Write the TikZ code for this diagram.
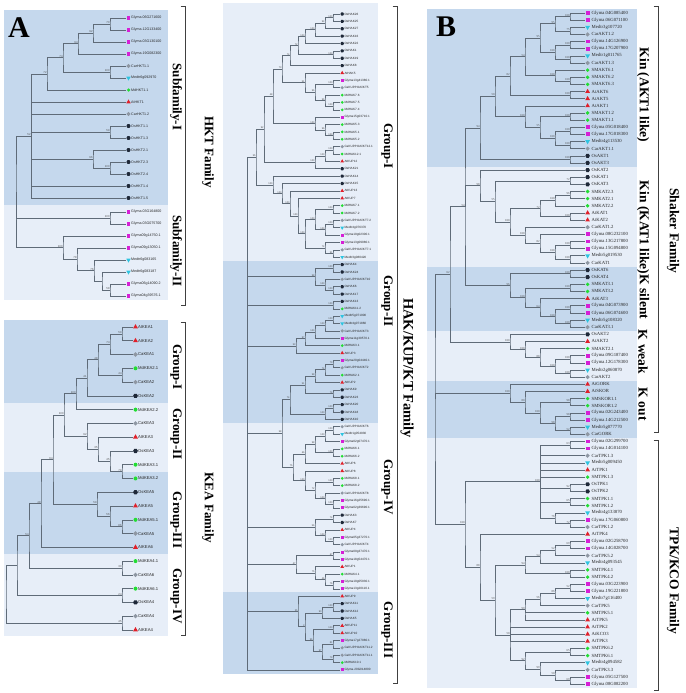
\documentclass[tikz,border=0pt]{standalone}
\usepackage{fontspec}
\setmainfont{Liberation Serif}
\newfontfamily\lsans{Liberation Sans}
\usetikzlibrary{calc,shapes.geometric}
\definecolor{dkb}{HTML}{C5D8ED}
\definecolor{ltb}{HTML}{E7EEF8}
\definecolor{brc}{HTML}{5F6B78}
\definecolor{bsc}{HTML}{505050}
\definecolor{glyc}{HTML}{D61FD6}
\definecolor{medc}{HTML}{2EC4E0}
\definecolor{carc}{HTML}{8E97A3}
\definecolor{mdc}{HTML}{22DD33}
\definecolor{atc}{HTML}{E0202A}
\definecolor{osc}{HTML}{1E2838}
\def\mks{3.5pt}\def\mko{2.5pt}\def\txo{5pt}
\def\ltfont{\fontsize{3.6}{4}\selectfont\lsans}
\def\bsfont{\fontsize{2.8}{3}\selectfont\lsans}
\tikzset{
 br/.style={draw=brc, line width=0.55pt},
 bs/.style={font=\bsfont, text=bsc, inner sep=0.2pt, anchor=south east},
 lt/.style={font=\ltfont, text=black!85, inner sep=0pt, anchor=west},
 mkgly/.style={rectangle, fill=glyc, minimum size=\mks, inner sep=0pt},
 mkmed/.style={regular polygon, regular polygon sides=3, shape border rotate=180, fill=medc, minimum size=1.45*\mks, inner sep=0pt},
 mkat/.style={regular polygon, regular polygon sides=3, fill=atc, minimum size=1.45*\mks, inner sep=0pt},
 mkcar/.style={diamond, fill=carc, minimum size=1.2*\mks, inner sep=0pt},
 mkmd/.style={circle, fill=mdc, minimum size=\mks, inner sep=0pt},
 mkos/.style={regular polygon, regular polygon sides=6, fill=osc, minimum size=1.2*\mks, inner sep=0pt},
 glab/.style={font=\fontsize{13}{13}\selectfont\bfseries, rotate=-90, inner sep=0pt},
 brk/.style={draw=black!75, line width=0.6pt},
 plab/.style={font=\fontsize{30}{30}\selectfont\bfseries, inner sep=0pt},
}
% leaf: name, index, marker, text
\newcommand\lf[4]{%
  \coordinate (#1) at (\xe,{\ys+#2*\yd});
  \node[#3] (#1m) at ([xshift=\mko]#1) {};
  \node[lt] (#1t) at ([xshift=\txo]#1) {#4};}
% clade: [label] name x childA childB
\newcommand\cl[5][]{%
  \path let \p1=($(#4)!0.5!(#5)$) in (#3pt,\y1) coordinate (#2);
  \draw[br] (#4) -| (#2) |- (#5);
  \ifx\relax#1\relax\else\node[bs] at (#2) {#1};\fi}
\newcommand\pl[6][]{%
  \cl[#1]{#2}{#3}{#4}{#5}%
  \foreach \cc in {#6}{\draw[br] (#2) |- (\cc);}}
\newcommand\brkt[4]{%
  \coordinate (#1a) at (#2-4.5,#3); \coordinate (#1b) at (#2,#3);
  \coordinate (#1c) at (#2,#4); \coordinate (#1d) at (#2-4.5,#4);
  \draw[brk] (#1a) -- (#1b) -- (#1c) -- (#1d);}
\begin{document}
\begin{tikzpicture}[x=1pt,y=-1pt]
\useasboundingbox (0,0) rectangle (685,693);
% ---------- bands ----------
\fill[dkb] (4,10) rectangle (168,205);
\fill[ltb] (4,205) rectangle (168,300);
\fill[dkb] (4,320) rectangle (168,403);
\fill[ltb] (4,403) rectangle (168,472);
\fill[dkb] (4,472) rectangle (168,554);
\fill[ltb] (4,554) rectangle (168,636);
\fill[ltb] (223,3) rectangle (378,261);
\fill[dkb] (223,261) rectangle (378,423);
\fill[ltb] (223,423) rectangle (378,592);
\fill[dkb] (223,592) rectangle (378,674);
\fill[dkb] (427,9) rectangle (637,166.5);
\fill[ltb] (427,166.5) rectangle (637,266.6);
\fill[dkb] (427,266.6) rectangle (637,330.7);
\fill[ltb] (427,330.7) rectangle (637,380.7);
\fill[dkb] (427,380.7) rectangle (637,437.8);
\fill[ltb] (427,437.8) rectangle (637,688);
% ---------- panel A : HKT ----------
\def\ys{18}\def\yd{12}\def\xe{126}
\lf{h0}{0}{mkgly}{Glyma.06G271600}
\lf{h1}{1}{mkgly}{Glyma.12G133400}
\lf{h2}{2}{mkgly}{Glyma.03G130100}
\lf{h3}{3}{mkgly}{Glyma.19G082300}
\lf{h4}{4}{mkcar}{CarHKT1.1}
\lf{h5}{5}{mkmed}{Medtr6g092970}
\lf{h6}{6}{mkmd}{MdHKT1.1}
\lf{h7}{7}{mkat}{AtHKT1}
\lf{h8}{8}{mkcar}{CarHKT1.2}
\lf{h9}{9}{mkos}{OsHKT1.1}
\lf{h10}{10}{mkos}{OsHKT1.3}
\lf{h11}{11}{mkos}{OsHKT2.1}
\lf{h12}{12}{mkos}{OsHKT2.3}
\lf{h13}{13}{mkos}{OsHKT2.4}
\lf{h14}{14}{mkos}{OsHKT1.4}
\lf{h15}{15}{mkos}{OsHKT1.5}
\def\ys{20}
\lf{h16}{16}{mkgly}{Glyma.03G164800}
\lf{h17}{17}{mkgly}{Glyma.03G075700}
\lf{h18}{18}{mkgly}{Glyma09g14750.1}
\lf{h19}{19}{mkgly}{Glyma09g13050.1}
\lf{h20}{20}{mkmed}{Medtr6g083165}
\lf{h21}{21}{mkmed}{Medtr6g083187}
\lf{h22}{22}{mkgly}{Glyma06g14090.2}
\lf{h23}{23}{mkgly}{Glyma04g39576.1}
\cl[70]{hN1}{110}{h0}{h1}
\cl[92]{hN2}{93}{hN1}{h2}
\cl[94]{hN3}{78}{hN2}{h3}
\cl[100]{hN4}{110}{h4}{h5}
\cl[74]{hN5}{63}{hN3}{hN4}
\cl[72]{hN6}{47}{hN5}{h6}
\cl[59]{hN7}{110}{h9}{h10}
\cl[100]{hN8}{110}{h12}{h13}
\cl[96]{hN9}{93}{h11}{hN8}
\pl[52]{hN10}{31}{hN6}{h15}{h7,h8,hN7,hN9,h14}
\cl[100]{hN11}{110}{h16}{h17}
\cl[58]{hN12}{110}{h22}{h23}
\cl{hN13}{102}{h21}{hN12}
\cl[76]{hN14}{94}{h20}{hN13}
\cl[78]{hN15}{77}{h19}{hN14}
\cl[100]{hN16}{63}{h18}{hN15}
\pl{hN17}{16}{hN10}{hN16}{hN11}
% ---------- panel A : KEA ----------
\def\ys{327}\def\yd{13.77}\def\xe{133}\def\mks{4pt}
\def\ltfont{\fontsize{4.2}{5}\selectfont\lsans}
\lf{k0}{0}{mkat}{AtKEA1}
\lf{k1}{1}{mkat}{AtKEA2}
\lf{k2}{2}{mkcar}{CaKEA1}
\lf{k3}{3}{mkmd}{MdKEA2.1}
\lf{k4}{4}{mkcar}{CaKEA2}
\lf{k5}{5}{mkos}{OsKEA2}
\lf{k6}{6}{mkmd}{MdKEA2.2}
\lf{k7}{7}{mkcar}{CaKEA3}
\lf{k8}{8}{mkat}{AtKEA3}
\lf{k9}{9}{mkos}{OsKEA3}
\lf{k10}{10}{mkmd}{MdKEA3.1}
\lf{k11}{11}{mkmd}{MdKEA3.2}
\lf{k12}{12}{mkos}{OsKEA5}
\lf{k13}{13}{mkat}{AtKEA5}
\lf{k14}{14}{mkmd}{MdKEA5.1}
\lf{k15}{15}{mkcar}{CaKEA5}
\lf{k16}{16}{mkat}{AtKEA6}
\lf{k17}{17}{mkmd}{MdKEA4.1}
\lf{k18}{18}{mkcar}{CaKEA6}
\lf{k19}{19}{mkmd}{MdKEA6.1}
\lf{k20}{20}{mkos}{OsKEA4}
\lf{k21}{21}{mkcar}{CaKEA4}
\lf{k22}{22}{mkat}{AtKEA4}
\cl[59]{kN1}{122}{k0}{k1}
\cl[74]{kN2}{110}{kN1}{k2}
\cl[44]{kN3}{122}{k3}{k4}
\cl[48]{kN4}{98}{kN2}{kN3}
\cl[41]{kN5}{87}{kN4}{k5}
\cl[100]{kN6}{76}{kN5}{k6}
\cl[79]{kN7}{122}{k10}{k11}
\cl[45]{kN8}{110}{k9}{kN7}
\cl[35]{kN9}{98}{k8}{kN8}
\cl[92]{kN10}{87}{k7}{kN9}
\cl[100]{kN11}{64}{kN6}{kN10}
\cl[86]{kN12}{122}{k14}{k15}
\cl[56]{kN13}{110}{k13}{kN12}
\cl[59]{kN14}{97}{k12}{kN13}
\cl[64]{kN15}{53}{kN11}{kN14}
\cl[48]{kN16}{41}{kN15}{k16}
\cl[30]{kN17}{122}{k17}{k18}
\cl[54]{kN18}{29}{kN16}{kN17}
\cl[24]{kN19}{122}{k19}{k20}
\cl{kN20}{17}{kN18}{kN19}
\cl[45]{kN21}{122}{k21}{k22}
\cl{kN22}{6}{kN20}{kN21}
% ---------- middle panel : HAK/KUP/KT ----------
\def\ys{14}\def\yd{7.37}\def\xe{340}\def\mks{3pt}\def\mko{2.2pt}\def\txo{4.3pt}
\def\ltfont{\fontsize{3.1}{3.5}\selectfont\lsans}
\def\bsfont{\fontsize{2.5}{3}\selectfont\lsans}
\lf{m0}{0}{mkos}{OsHAK26}
\lf{m1}{1}{mkos}{OsHAK25}
\lf{m2}{2}{mkos}{OsHAK27}
\lf{m3}{3}{mkos}{OsHAK16}
\lf{m4}{4}{mkos}{OsHAK22}
\lf{m5}{5}{mkos}{OsHAK1}
\lf{m6}{6}{mkos}{OsHAK19}
\lf{m7}{7}{mkos}{OsHAK8}
\lf{m8}{8}{mkat}{AtHAK5}
\lf{m9}{9}{mkgly}{Glyma13g41380.1}
\lf{m10}{10}{mkcar}{CaKUP/HAK/KT5}
\lf{m11}{11}{mkmd}{MdHAK7.6}
\lf{m12}{12}{mkmd}{MdHAK7.5}
\lf{m13}{13}{mkmd}{MdHAK7.4}
\lf{m14}{14}{mkgly}{Glyma15g03710.1}
\lf{m15}{15}{mkmd}{MdHAK5.3}
\lf{m16}{16}{mkmd}{MdHAK5.1}
\lf{m17}{17}{mkmd}{MdHAK5.2}
\lf{m18}{18}{mkcar}{CaKUP/HAK/KT12.1}
\lf{m19}{19}{mkmd}{MdHAK12.1}
\lf{m20}{20}{mkat}{AtKUP12}
\lf{m21}{21}{mkos}{OsHAK21}
\lf{m22}{22}{mkos}{OsHAK14}
\lf{m23}{23}{mkos}{OsHAK15}
\lf{m24}{24}{mkat}{AtKUP13}
\lf{m25}{25}{mkat}{AtKUP7}
\lf{m26}{26}{mkmd}{MdHAK7.1}
\lf{m27}{27}{mkmd}{MdHAK7.2}
\lf{m28}{28}{mkcar}{CaKUP/HAK/KT7.2}
\lf{m29}{29}{mkmed}{Medtr4g076370}
\lf{m30}{30}{mkgly}{Glyma19g02300.1}
\lf{m31}{31}{mkgly}{Glyma13g09080.1}
\lf{m32}{32}{mkcar}{CaKUP/HAK/KT7.1}
\lf{m33}{33}{mkmed}{Medtr3g080420}
\lf{m34}{34}{mkos}{OsHAK4}
\lf{m35}{35}{mkos}{OsHAK24}
\lf{m36}{36}{mkcar}{CaKUP/HAK/KT10}
\lf{m37}{37}{mkos}{OsHAK6}
\lf{m38}{38}{mkos}{OsHAK17}
\lf{m39}{39}{mkos}{OsHAK13}
\lf{m40}{40}{mkmd}{MdHAK11.2}
\lf{m41}{41}{mkmed}{Medtr5g071900}
\lf{m42}{42}{mkmed}{Medtr4g071860}
\lf{m43}{43}{mkcar}{CaKUP/HAK/KT3}
\lf{m44}{44}{mkgly}{Glyma11g30570.1}
\lf{m45}{45}{mkmd}{MdHAK3.1}
\lf{m46}{46}{mkat}{AtKUP3}
\lf{m47}{47}{mkgly}{Glyma20g04440.1}
\lf{m48}{48}{mkcar}{CaKUP/HAK/KT2}
\lf{m49}{49}{mkmd}{MdHAK2.1}
\lf{m50}{50}{mkat}{AtKUP2}
\lf{m51}{51}{mkos}{OsHAK9}
\lf{m52}{52}{mkos}{OsHAK23}
\lf{m53}{53}{mkos}{OsHAK20}
\lf{m54}{54}{mkos}{OsHAK18}
\lf{m55}{55}{mkos}{OsHAK10}
\lf{m56}{56}{mkcar}{CaKUP/HAK/KT6}
\lf{m57}{57}{mkmed}{Medtr1g054930}
\lf{m58}{58}{mkgly}{Glyma02g07470.1}
\lf{m59}{59}{mkmd}{MdHAK6.1}
\lf{m60}{60}{mkmd}{MdHAK6.2}
\lf{m61}{61}{mkat}{AtKUP6}
\lf{m62}{62}{mkat}{AtKUP8}
\lf{m63}{63}{mkmd}{MdHAK8.1}
\lf{m64}{64}{mkmd}{MdHAK8.2}
\lf{m65}{65}{mkcar}{CaKUP/HAK/KT8}
\lf{m66}{66}{mkgly}{Glyma16g25690.1}
\lf{m67}{67}{mkgly}{Glyma02g39690.1}
\lf{m68}{68}{mkos}{OsHAK3}
\lf{m69}{69}{mkos}{OsHAK7}
\lf{m70}{70}{mkat}{AtKUP4}
\lf{m71}{71}{mkgly}{Glyma05g37270.1}
\lf{m72}{72}{mkcar}{CaKUP/HAK/KT4}
\lf{m73}{73}{mkgly}{Glyma09g37470.1}
\lf{m74}{74}{mkgly}{Glyma18g54470.1}
\lf{m75}{75}{mkat}{AtKUP1}
\lf{m76}{76}{mkmd}{MdHAK4.1}
\lf{m77}{77}{mkgly}{Glyma19g05930.1}
\lf{m78}{78}{mkgly}{Glyma13g20110.1}
\lf{m79}{79}{mkat}{AtKUP9}
\lf{m80}{80}{mkos}{OsHAK11}
\lf{m81}{81}{mkos}{OsHAK12}
\lf{m82}{82}{mkos}{OsHAK5}
\lf{m83}{83}{mkat}{AtKUP11}
\lf{m84}{84}{mkat}{AtKUP10}
\lf{m85}{85}{mkgly}{Glyma17g27980.1}
\lf{m86}{86}{mkcar}{CaKUP/HAK/KT11.2}
\lf{m87}{87}{mkcar}{CaKUP/HAK/KT11.1}
\lf{m88}{88}{mkmd}{MdHAK10.1}
\lf{m89}{89}{mkgly}{Glyma.20G014800}
\cl[100]{mA1}{333}{m0}{m1}
\cl[94]{mA2}{325}{mA1}{m2}
\cl[100]{mA3}{315}{mA2}{m3}
\cl[100]{mA4}{305}{mA3}{m4}
\cl[100]{mA5}{333}{m5}{m6}
\cl[72]{mA6}{298}{mA4}{mA5}
\cl[74]{mA7}{290}{mA6}{m7}
\cl[100]{mB1}{333}{m9}{m10}
\cl[100]{mB3}{333}{m12}{m13}
\cl[96]{mB4}{325}{m11}{mB3}
\cl[96]{mB5}{315}{mB1}{mB4}
\cl[51]{mB6}{305}{m8}{mB5}
\cl[100]{mB7}{333}{m16}{m17}
\cl[96]{mB8}{325}{m15}{mB7}
\cl[100]{mB9}{315}{m14}{mB8}
\cl[73]{mAB1}{282}{mA7}{mB6}
\cl[48]{mAB2}{273}{mAB1}{mB9}
\cl[100]{mC1}{333}{m18}{m19}
\cl[100]{mC2}{325}{mC1}{m20}
\cl[100]{mC3}{315}{mC2}{m21}
\cl[92]{mAB3}{264}{mAB2}{mC3}
\cl[100]{mD1}{333}{m26}{m27}
\cl[100]{mD2}{333}{m28}{m29}
\cl[100]{mD3}{325}{mD2}{m30}
\cl[100]{mD4}{315}{mD1}{mD3}
\cl[91]{mD5}{333}{m32}{m33}
\cl[74]{mD6}{325}{m31}{mD5}
\cl[100]{mD7}{305}{mD4}{mD6}
\cl[100]{mD8}{298}{m25}{mD7}
\cl[100]{mD9}{290}{m24}{mD8}
\cl[100]{mD10}{282}{m23}{mD9}
\cl[100]{mD11}{273}{m22}{mD10}
\cl[55]{mG1}{256}{mAB3}{mD11}
\cl[100]{mE1}{333}{m34}{m35}
\cl[100]{mE2}{333}{m37}{m38}
\cl[100]{mE3}{325}{m36}{mE2}
\cl[98]{mE4}{315}{mE1}{mE3}
\cl[100]{mE5}{333}{m39}{m40}
\cl[100]{mF1}{333}{m41}{m42}
\cl[100]{mF2}{325}{mF1}{m43}
\cl[100]{mF3}{315}{mF2}{m44}
\cl[97]{mF4}{305}{mF3}{m45}
\cl[53]{mF5}{296}{mF4}{m46}
\cl[79]{mG1a}{333}{m47}{m48}
\cl[74]{mG2a}{325}{mG1a}{m49}
\cl[98]{mG3a}{315}{mG2a}{m50}
\cl[74]{mG4a}{333}{m51}{m52}
\cl[51]{mG5a}{305}{mG3a}{mG4a}
\cl[100]{mG6a}{333}{m53}{m54}
\cl[100]{mG7a}{325}{mG6a}{m55}
\cl[74]{mG8a}{290}{mG5a}{mG7a}
\cl[100]{mH1}{333}{m56}{m57}
\cl[100]{mH2}{325}{mH1}{m58}
\cl[100]{mH3}{333}{m59}{m60}
\cl[98]{mH4}{315}{mH2}{mH3}
\cl[66]{mH5}{305}{mH4}{m61}
\cl[100]{mI1}{333}{m63}{m64}
\cl[100]{mI2}{333}{m66}{m67}
\cl[100]{mI3}{325}{m65}{mI2}
\cl[72]{mI4}{315}{mI1}{mI3}
\cl[100]{mI5}{305}{m62}{mI4}
\cl[75]{mHI}{293}{mH5}{mI5}
\cl[58]{mN58}{282}{mG8a}{mHI}
\cl[74]{mJ1}{333}{m68}{m69}
\cl[100]{mJ2}{333}{m71}{m72}
\cl[100]{mJ3}{325}{m70}{mJ2}
\cl[56]{mJ4}{315}{mJ1}{mJ3}
\cl[67]{mK1}{333}{m73}{m74}
\cl[76]{mK2}{333}{m77}{m78}
\cl[46]{mK3}{325}{m76}{mK2}
\cl[75]{mK4}{315}{m75}{mK3}
\cl[47]{mK5}{296}{mK1}{mK4}
\cl[100]{mM1}{333}{m80}{m81}
\cl[90]{mM2}{322}{mM1}{m82}
\cl[100]{mM3}{333}{m83}{m84}
\cl[81]{mM4}{333}{m85}{m86}
\cl[79]{mM5}{333}{m87}{m88}
\cl[97]{mM6}{322}{mM4}{mM5}
\cl[96]{mM7}{313}{mM3}{mM6}
\cl[3]{mM8}{305}{mM2}{mM7}
\cl[35]{mM9}{298}{m79}{mM8}
\pl{mRoot}{247}{mG1}{m89}{mE4,mE5,mF5,mN58,mJ4,mK5,mM9}
% ---------- panel B : K channels ----------
\def\ys{13}\def\yd{7.14}\def\xe{585}\def\mks{3.8pt}\def\mko{2.6pt}\def\txo{6.5pt}
\def\ltfont{\fontsize{4.7}{5}\selectfont}
\def\bsfont{\fontsize{3}{3.5}\selectfont}
\lf{s0}{0}{mkgly}{Glyma.04G085400}
\lf{s1}{1}{mkgly}{Glyma.06G071100}
\lf{s2}{2}{mkmed}{Medtr3g107720}
\lf{s3}{3}{mkcar}{CarAKT1.2}
\lf{s4}{4}{mkgly}{Glyma.14G126900}
\lf{s5}{5}{mkgly}{Glyma.17G207900}
\lf{s6}{6}{mkmed}{Medtr1g011765}
\lf{s7}{7}{mkcar}{CarAKT1.3}
\lf{s8}{8}{mkmd}{SMAKT6.1}
\lf{s9}{9}{mkmd}{SMAKT6.2}
\lf{s10}{10}{mkmd}{SMAKT6.3}
\lf{s11}{11}{mkat}{AtAKT6}
\lf{s12}{12}{mkat}{AtAKT5}
\lf{s13}{13}{mkat}{AtAKT1}
\lf{s14}{14}{mkmd}{SMAKT1.2}
\lf{s15}{15}{mkmd}{SMAKT1.1}
\lf{s16}{16}{mkgly}{Glyma.05G018400}
\lf{s17}{17}{mkgly}{Glyma.17G018300}
\lf{s18}{18}{mkmed}{Medtr4g113530}
\lf{s19}{19}{mkcar}{CarAKT1.1}
\lf{s20}{20}{mkos}{OsAKT1}
\lf{s21}{21}{mkos}{OsAKT3}
\lf{s22}{22}{mkos}{OsKAT2}
\lf{s23}{23}{mkos}{OsKAT1}
\lf{s24}{24}{mkos}{OsKAT3}
\lf{s25}{25}{mkmd}{SMKAT2.3}
\lf{s26}{26}{mkmd}{SMKAT2.1}
\lf{s27}{27}{mkmd}{SMKAT2.2}
\lf{s28}{28}{mkat}{AtKAT1}
\lf{s29}{29}{mkat}{AtKAT2}
\lf{s30}{30}{mkcar}{CarKAT1.2}
\lf{s31}{31}{mkgly}{Glyma.08G232100}
\lf{s32}{32}{mkgly}{Glyma.13G217800}
\lf{s33}{33}{mkgly}{Glyma.15G094800}
\lf{s34}{34}{mkmed}{Medtr5g019530}
\lf{s35}{35}{mkcar}{CarKAT1}
\lf{s36}{36}{mkos}{OsKAT6}
\lf{s37}{37}{mkos}{OsKAT4}
\lf{s38}{38}{mkmd}{SMKAT3.1}
\lf{s39}{39}{mkmd}{SMKAT3.2}
\lf{s40}{40}{mkat}{AtKAT3}
\lf{s41}{41}{mkgly}{Glyma.04G073900}
\lf{s42}{42}{mkgly}{Glyma.06G074600}
\lf{s43}{43}{mkmed}{Medtr5g108320}
\lf{s44}{44}{mkcar}{CarKAT3.1}
\lf{s45}{45}{mkos}{OsAKT2}
\lf{s46}{46}{mkat}{AtAKT2}
\lf{s47}{47}{mkmd}{SMAKT2.1}
\lf{s48}{48}{mkgly}{Glyma.09G187400}
\lf{s49}{49}{mkgly}{Glyma.12G178300}
\lf{s50}{50}{mkmed}{Medtr2g060870}
\lf{s51}{51}{mkcar}{CarAKT2}
\lf{s52}{52}{mkat}{AtGORK}
\lf{s53}{53}{mkat}{AtSKOR}
\lf{s54}{54}{mkmd}{SMSKOR1.1}
\lf{s55}{55}{mkmd}{SMSKOR1.2}
\lf{s56}{56}{mkgly}{Glyma.02G243400}
\lf{s57}{57}{mkgly}{Glyma.14G212500}
\lf{s58}{58}{mkmed}{Medtr5g077770}
\lf{s59}{59}{mkcar}{CarGORK}
\lf{s60}{60}{mkgly}{Glyma.02G299700}
\lf{s61}{61}{mkgly}{Glyma.14G014100}
\lf{s62}{62}{mkcar}{CarTPK1.3}
\lf{s63}{63}{mkmed}{Medtr5g009450}
\lf{s64}{64}{mkat}{AtTPK1}
\lf{s65}{65}{mkmd}{SMTPK1.3}
\lf{s66}{66}{mkos}{OsTPK1}
\lf{s67}{67}{mkos}{OsTPK2}
\lf{s68}{68}{mkmd}{SMTPK1.1}
\lf{s69}{69}{mkmd}{SMTPK1.2}
\lf{s70}{70}{mkmed}{Medtr4g133870}
\lf{s71}{71}{mkgly}{Glyma.17G060800}
\lf{s72}{72}{mkcar}{CarTPK1.2}
\lf{s73}{73}{mkat}{AtTPK4}
\lf{s74}{74}{mkgly}{Glyma.02G258700}
\lf{s75}{75}{mkgly}{Glyma.14G028700}
\lf{s76}{76}{mkcar}{CarTPK5.2}
\lf{s77}{77}{mkmed}{Medtr4g093545}
\lf{s78}{78}{mkmd}{SMTPK4.1}
\lf{s79}{79}{mkmd}{SMTPK4.2}
\lf{s80}{80}{mkgly}{Glyma.03G223900}
\lf{s81}{81}{mkgly}{Glyma.19G221800}
\lf{s82}{82}{mkmed}{Medtr7g116400}
\lf{s83}{83}{mkcar}{CarTPK5}
\lf{s84}{84}{mkmd}{SMTPK5.1}
\lf{s85}{85}{mkat}{AtTPK5}
\lf{s86}{86}{mkat}{AtTPK2}
\lf{s87}{87}{mkat}{AtKCO3}
\lf{s88}{88}{mkat}{AtTPK3}
\lf{s89}{89}{mkmd}{SMTPK6.2}
\lf{s90}{90}{mkmd}{SMTPK6.1}
\lf{s91}{91}{mkmed}{Medtr4g094582}
\lf{s92}{92}{mkcar}{CarTPK3.3}
\lf{s93}{93}{mkgly}{Glyma.05G127500}
\lf{s94}{94}{mkgly}{Glyma.08G082200}
\cl[100]{sa1}{570}{s0}{s1}
\cl[75]{sa2}{570}{s2}{s3}
\cl[95]{sa3}{555}{sa1}{sa2}
\cl[100]{sa4}{570}{s4}{s5}
\cl[100]{sa5}{570}{s6}{s7}
\cl[100]{sa6}{555}{sa4}{sa5}
\cl[95]{sa7}{540}{sa3}{sa6}
\cl[100]{sa8}{570}{s9}{s10}
\cl[100]{sa9}{555}{s8}{sa8}
\cl[54]{sa10}{525}{sa7}{sa9}
\cl[100]{sa11}{570}{s11}{s12}
\cl[82]{sa12}{510}{sa10}{sa11}
\cl[100]{sa13}{570}{s14}{s15}
\cl[100]{sa14}{570}{s16}{s17}
\cl[100]{sa15}{570}{s18}{s19}
\cl[100]{sa16}{555}{sa14}{sa15}
\cl[55]{sa17}{540}{sa13}{sa16}
\cl[100]{sa18}{525}{s13}{sa17}
\cl[50]{sa19}{495}{sa12}{sa18}
\cl[100]{sa20}{570}{s20}{s21}
\cl[94]{sa21}{480}{sa19}{sa20}
\cl[72]{sb1}{570}{s23}{s24}
\cl[96]{sb2}{570}{s25}{s26}
\cl[100]{sb3}{555}{sb2}{s27}
\cl[100]{sb4}{570}{s28}{s29}
\cl[72]{sb5}{540}{sb3}{sb4}
\cl[100]{sb6}{570}{s32}{s33}
\cl[100]{sb7}{570}{s34}{s35}
\cl[100]{sb8}{555}{sb6}{sb7}
\cl[82]{sb9}{540}{s31}{sb8}
\cl[100]{sb10}{525}{s30}{sb9}
\cl[100]{sb11}{510}{sb5}{sb10}
\cl[55]{sb12}{495}{sb1}{sb11}
\cl[98]{sb13}{480}{s22}{sb12}
\cl[100]{sc1}{570}{s36}{s37}
\cl[100]{sc2}{570}{s38}{s39}
\cl[100]{sc3}{570}{s41}{s42}
\cl[100]{sc4}{570}{s43}{s44}
\cl[100]{sc5}{555}{sc3}{sc4}
\cl[64]{sc6}{540}{s40}{sc5}
\cl[100]{sc7}{525}{sc2}{sc6}
\cl[96]{sc8}{510}{sc1}{sc7}
\pl[54]{sN54}{465}{sa21}{sc8}{sb13}
\cl[100]{sd1}{570}{s48}{s49}
\cl[100]{sd2}{570}{s50}{s51}
\cl[100]{sd3}{555}{sd1}{sd2}
\cl[88]{sd4}{540}{s47}{sd3}
\cl[100]{sd5}{525}{s46}{sd4}
\cl[100]{sd6}{510}{s45}{sd5}
\cl[62]{sN62}{450}{sN54}{sd6}
\cl[98]{se1}{570}{s54}{s55}
\cl[98]{se2}{570}{s56}{s57}
\cl[52]{se3}{570}{s58}{s59}
\cl[98]{se4}{555}{se2}{se3}
\cl[100]{se5}{540}{se1}{se4}
\cl[80]{se6}{525}{s53}{se5}
\cl[100]{se7}{510}{s52}{se6}
\cl[63]{sf1}{570}{s60}{s61}
\cl[92]{sf2}{570}{s66}{s67}
\cl[65]{sf3}{570}{s68}{s69}
\cl[72]{sf4}{570}{s71}{s72}
\cl[76]{sf5}{555}{s70}{sf4}
\pl[100]{sf6}{540}{sf1}{sf5}{s62,s63,s64,s65,sf2,sf3}
\cl[69]{sg1}{570}{s74}{s75}
\cl[52]{sg2}{555}{sg1}{s76}
\cl[54]{sg3}{540}{sg2}{s77}
\cl[100]{sg4}{570}{s78}{s79}
\cl[94]{sg5}{525}{sg3}{sg4}
\cl[52]{sh1}{570}{s80}{s81}
\cl[86]{sh2}{555}{sh1}{s82}
\cl[56]{sh3}{540}{sh2}{s83}
\pl[99]{sh4}{525}{sh3}{s85}{s84}
\cl[65]{si1}{570}{s89}{s90}
\cl[69]{si2}{570}{s93}{s94}
\cl[50]{si3}{555}{s92}{si2}
\cl[99]{si4}{540}{s91}{si3}
\cl[92]{si5}{525}{si1}{si4}
\pl[50]{sh5}{510}{sh4}{si5}{s86,s87,s88}
\cl[59]{sg6}{495}{sg5}{sh5}
\cl[88]{sg7}{480}{s73}{sg6}
\cl[100]{stpk}{465}{sf6}{sg7}
\pl{sRoot}{435}{sN62}{stpk}{se7}
% ---------- brackets ----------
\brkt{bk1}{185}{6}{305}
\brkt{bk2}{185}{322}{635}
\brkt{bk3}{397}{6}{683}
\brkt{bk4}{658}{6}{432}
\brkt{bk5}{658}{440}{690}
% ---------- labels ----------
\node[plab] (pA) at (19,28) {A};
\node[plab] (pB) at (446,27) {B};
\node[glab] (l1) at (176,97) {Subfamily-I};
\node[glab] (l2) at (176,251) {Subfamily-II};
\node[glab] (l3) at (208,152) {HKT Family};
\node[glab] (l4) at (176,367) {Group-I};
\node[glab] (l5) at (176,434) {Group-II};
\node[glab] (l6) at (176,520) {Group-III};
\node[glab] (l7) at (176,596) {Group-IV};
\node[glab] (l8) at (208,508) {KEA Family};
\node[glab] (l9) at (387,146) {Group-I};
\node[glab] (l10) at (387,301) {Group-II};
\node[glab] (l11) at (387,487) {Group-IV};
\node[glab] (l12) at (387,630) {Group-III};
\node[glab, font=\fontsize{14.5}{14.5}\selectfont\bfseries] (l13) at (407,368) {HAK/KUP/KT Family};
\node[glab, font=\fontsize{13.5}{13.5}\selectfont\bfseries] (l14) at (643,95) {Kin (AKT1 like)};
\node[glab, font=\fontsize{13.5}{13.5}\selectfont\bfseries] (l15) at (643,250) {Kin (KAT1 like)K silent};
\node[glab, font=\fontsize{13.5}{13.5}\selectfont\bfseries] (l16) at (643,352) {K\hspace{4pt}weak};
\node[glab, font=\fontsize{13.5}{13.5}\selectfont\bfseries] (l17) at (643,404) {K\hspace{4pt}out};
\node[glab, font=\fontsize{13.5}{13.5}\selectfont\bfseries] (l18) at (673,231) {Shaker Family};
\node[glab, font=\fontsize{13.5}{13.5}\selectfont\bfseries] (l19) at (673,581) {TPK/KCO Family};
\end{tikzpicture}
\end{document}
